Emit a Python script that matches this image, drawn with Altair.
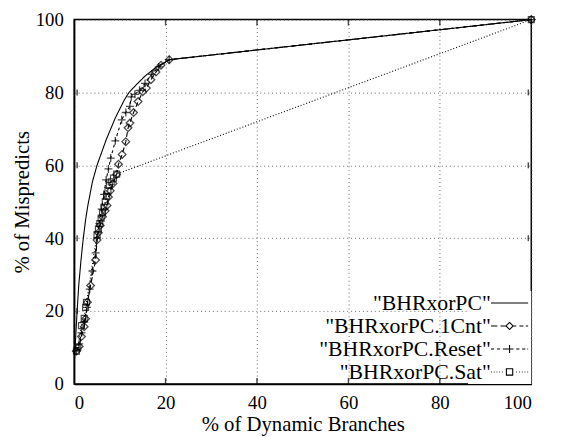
import altair as alt
import pandas as pd

series_names = ['"BHRxorPC"', '"BHRxorPC.1Cnt"', '"BHRxorPC.Reset"', '"BHRxorPC.Sat"']

base_x = [0.1, 0.3, 0.6, 1.0, 1.5, 2.0, 2.5, 3.0, 4.0, 5.0, 6.0, 7.0, 8.0, 9.0, 10.0, 11.0, 12.0, 13.5, 15.5, 18.0, 20.8, 100]
base_y = [7, 12, 19, 27, 34, 40, 45, 49, 55.5, 60, 63.5, 67, 70, 73, 75.5, 78, 80, 82, 84.5, 87, 89, 100]

cnt_x = [0.5, 1.1, 1.6, 2.2, 2.5, 2.9, 3.6, 4.7, 5.0, 5.3, 5.7, 6.2, 6.8, 7.2, 7.5, 7.9, 8.5, 9.3, 9.7, 10.5, 11.3, 11.8, 12.2, 13.0, 14.0, 15.0, 15.8, 16.8, 17.9, 19.0, 20.8, 100]
cnt_y = [9, 10.3, 13, 15.7, 17.9, 22.4, 27, 34, 39.5, 41.5, 43.5, 45.9, 47.5, 49, 51.3, 53, 55, 57.5, 60.3, 63, 66.5, 70.3, 71.6, 74.5, 77.5, 80.2, 81.2, 83.5, 85.6, 87.5, 89, 100]

reset_x = [0.5, 1.1, 1.6, 2.2, 2.8, 3.4, 4.0, 4.7, 5.0, 5.5, 6.0, 6.5, 7.0, 7.5, 8.0, 9.0, 10.4, 11.3, 12.2, 12.5, 13.3, 14.3, 15.5, 17.0, 18.5, 20.8, 100]
reset_y = [9, 11, 14, 17, 21, 26, 31, 36, 40, 44, 48, 52, 56, 59, 62, 66.7, 72.5, 74.5, 76.2, 78.8, 79.5, 80.6, 82.5, 85, 87, 89, 100]

sat_x = [0.5, 0.8, 1.6, 2.2, 2.5, 2.7, 5.0, 5.3, 5.6, 5.9, 6.2, 6.5, 6.8, 7.1, 7.4, 7.7, 8.1, 8.6, 9.3, 100]
sat_y = [9, 10, 16, 18, 21, 22.4, 41, 42.5, 44, 45.5, 47, 48.5, 50, 51.5, 53, 54.5, 55.5, 56.5, 57.6, 100]

tick_values = [20, 40, 60, 80]
axis_values = [0, 20, 40, 60, 80, 100]

rows = []
for name, xs_, ys_ in zip(series_names, [base_x, cnt_x, reset_x, sat_x], [base_y, cnt_y, reset_y, sat_y]):
    for i, (a, b) in enumerate(zip(xs_, ys_)):
        rows.append({"series": name, "x": a, "y": b, "i": i})
df = pd.DataFrame(rows)
ticks_df = pd.DataFrame({"t": tick_values})

FONT = "Liberation Serif"
xs = alt.Scale(domain=[0, 100], nice=False, zero=False)
ys = alt.Scale(domain=[0, 100], nice=False, zero=False)
X = alt.X("x:Q", scale=xs, title="% of Dynamic Branches",
          axis=alt.Axis(values=axis_values, tickSize=0, labelPadding=10,
                        titlePadding=1, grid=True))
Y = alt.Y("y:Q", scale=ys, title="% of Mispredicts",
          axis=alt.Axis(values=axis_values, tickSize=0, labelPadding=11,
                        titlePadding=3, grid=True))

lines = alt.Chart(df).mark_line(color="black", strokeWidth=1.1).encode(
    x=X, y=Y, order="i:Q",
    strokeDash=alt.StrokeDash("series:N", scale=alt.Scale(domain=series_names,
                              range=[[1, 0], [5, 3], [3, 3], [1, 2]]), legend=None),
    detail="series:N",
)

diam = alt.Chart(df).transform_filter(alt.datum.series == series_names[1]).mark_point(
    shape="diamond", size=60, color="black", strokeWidth=1.3, filled=False).encode(x="x:Q", y="y:Q")
plus = alt.Chart(df).transform_filter(alt.datum.series == series_names[2]).mark_point(
    shape="M-1,0H1M0,-1V1", size=64, color="black", strokeWidth=1.3, filled=False).encode(x="x:Q", y="y:Q")
sq = alt.Chart(df).transform_filter(alt.datum.series == series_names[3]).mark_point(
    shape="square", size=36, color="black", strokeWidth=1.2, filled=False).encode(x="x:Q", y="y:Q")

# inner ticks on all four sides
tb = alt.Chart(ticks_df).mark_tick(color="black", size=6, thickness=1.5, yOffset=-3).encode(
    x=alt.X("t:Q", scale=xs), y=alt.datum(0))
tt = alt.Chart(ticks_df).mark_tick(color="black", size=6, thickness=1.5, yOffset=3).encode(
    x=alt.X("t:Q", scale=xs), y=alt.datum(100))
tl = alt.Chart(ticks_df).mark_tick(color="black", size=6, thickness=1.5, xOffset=3).encode(
    y=alt.Y("t:Q", scale=ys), x=alt.datum(0))
tr = alt.Chart(ticks_df).mark_tick(color="black", size=6, thickness=1.5, xOffset=-3).encode(
    y=alt.Y("t:Q", scale=ys), x=alt.datum(100))

# legend symbol paths (1 unit = 8 px), drawn to the right of the labels
legend_paths = [
    "M1.4,0H6.1",
    "M1.4,0H2.2M2.6,0H3.3M3.75,-0.45L4.2,0L3.75,0.45L3.3,0ZM4.2,0H4.6M5.0,0H5.5M5.8,0H6.1",
    "M1.4,0H1.8M2.15,0H2.55M2.9,0H3.75M3.75,-0.5V0.5M3.75,0H4.25M4.6,0H5.0M5.35,0H5.75M6.0,0H6.1",
    "M1.4,0H1.5M1.75,0H1.85M2.1,0H2.2M2.45,0H2.55M2.8,0H2.9M3.35,-0.4H4.15V0.4H3.35ZM4.6,0H4.7M4.95,0H5.05M5.3,0H5.4M5.65,0H5.75M6.0,0H6.1",
]
leg = alt.Chart(df).transform_calculate(entry="datum.series").mark_point(
    opacity=0, color="black", filled=False).encode(
    x="x:Q", y="y:Q",
    shape=alt.Shape("entry:N", scale=alt.Scale(domain=series_names, range=legend_paths),
                    legend=alt.Legend(title=None, orient="bottom-right", offset=0,
                                      symbolSize=256, symbolOpacity=1, symbolStrokeColor="black",
                                      symbolStrokeWidth=1.1, symbolOffset=0,
                                      labelAlign="right", labelOffset=0,
                                      labelFont=FONT, labelFontSize=22, labelColor="black",
                                      labelLimit=400, fillColor="white", padding=1, rowPadding=1.3)),
)

chart = alt.layer(lines, diam, plus, sq, tb, tt, tl, tr, leg).resolve_legend(
    shape="independent", strokeDash="independent"
).properties(
    width=463, height=369,
    padding={"left": 3, "top": 0, "right": 5, "bottom": 0},
).configure_view(stroke="black", strokeWidth=1.5).configure_axis(
    labelFont=FONT, titleFont=FONT, labelFontSize=19, titleFontSize=21,
    labelColor="black", titleColor="black", titleFontWeight="normal",
    domainColor="black", domainWidth=1.5,
    gridColor="#444", gridDash=[1, 3], gridWidth=0.8,
)
chart.save("out.html", embed_options={"renderer": "svg", "actions": False})
